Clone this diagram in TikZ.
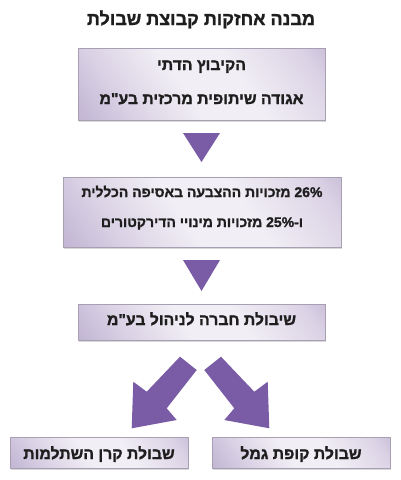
\documentclass[tikz,border=0pt]{standalone}
\usepackage{fontspec}
\setmainfont{Liberation Sans}
\newfontfamily\hebb[Script=Hebrew, FakeBold=1.4]{Liberation Sans Bold}
\TeXXeTstate=1
\usetikzlibrary{shadows}
\definecolor{pdark}{HTML}{A595C0}
\definecolor{plight}{HTML}{F1EEF5}
\definecolor{pmid}{HTML}{DCD4E6}
\definecolor{parrow}{HTML}{7A5BA6}
\definecolor{pborder}{HTML}{A8A0B2}
\definecolor{txt}{HTML}{1E1E1E}
\pgfdeclarehorizontalshading{boxshade}{100bp}{color(0bp)=(pdark); color(30bp)=(pmid); color(45bp)=(plight); color(60bp)=(plight); color(78bp)=(pmid); color(100bp)=(pdark)}
\tikzset{
  box/.style={draw=pborder, line width=0.8pt, shading=boxshade, shading angle=35,
    drop shadow={shadow xshift=1.2pt, shadow yshift=-1.5pt, fill=black!30, opacity=0.5},
    inner sep=0pt},
  boxtext/.style={anchor=base, inner sep=0pt, text=txt, font=\hebb\fontsize{15.8}{18}\selectfont},
  smalltext/.style={boxtext, font=\hebb\fontsize{14}{16}\selectfont},
  pointer/.style={fill=parrow, draw=none},
  titlestyle/.style={anchor=base, text=txt, font=\hebb\fontsize{18}{20}\selectfont, inner sep=0pt}
}
\begin{document}
\begin{tikzpicture}[x=1pt,y=-1pt]
\useasboundingbox (0,0) rectangle (400,480);
\node[titlestyle] (title) at (201,25) {\beginR מבנה אחזקות קבוצת שבולת\endR};
% boxes
\node[box, minimum width=247pt, minimum height=72pt] (b1) at (201.5,84) {};
\node[box, minimum width=278pt, minimum height=70pt] (b2) at (202,212) {};
\node[box, minimum width=247pt, minimum height=36pt] (b3) at (201.5,322) {};
\node[box, minimum width=178pt, minimum height=31pt] (b4) at (99,452.5) {};
\node[box, minimum width=178pt, minimum height=31pt] (b5) at (301,452.5) {};
% box texts
\node[boxtext] (t1a) at (201.5,70) {\beginR הקיבוץ הדתי\endR};
\node[boxtext] (t1b) at (201.5,104) {\beginR אגודה שיתופית מרכזית בע"מ\endR};
\node[smalltext] (t2a) at (202,197) {\beginR\beginL 26\%\endL{} מזכויות ההצבעה באסיפה הכללית\endR};
\node[smalltext] (t2b) at (202,227) {\beginR ו-\beginL 25\%\endL{} מזכויות מינויי הדירקטורים\endR};
\node[boxtext] (t3) at (201.5,325) {\beginR שיבולת חברה לניהול בע"מ\endR};
\node[boxtext] (t4) at (99,459) {\beginR שבולת קרן השתלמות\endR};
\node[boxtext] (t5) at (301,459) {\beginR שבולת קופת גמל\endR};
% down pointers between stacked boxes
\fill[pointer] (183,133) -- (220,133) -- (201.5,162) -- cycle;
\fill[pointer] (183,260) -- (220,260) -- (201.5,291) -- cycle;
% block arrows to the two funds
\fill[pointer] (180,356.7) -- (196.7,370) -- (166.7,408.3) -- (176.7,420) -- (131.7,428.3) -- (133.3,381.7) -- (146.7,391.7) -- cycle;
\fill[pointer] (221,356.7) -- (204.3,370) -- (234.3,408.3) -- (224.3,420) -- (269.3,428.3) -- (267.7,381.7) -- (254.3,391.7) -- cycle;
\end{tikzpicture}
\end{document}
